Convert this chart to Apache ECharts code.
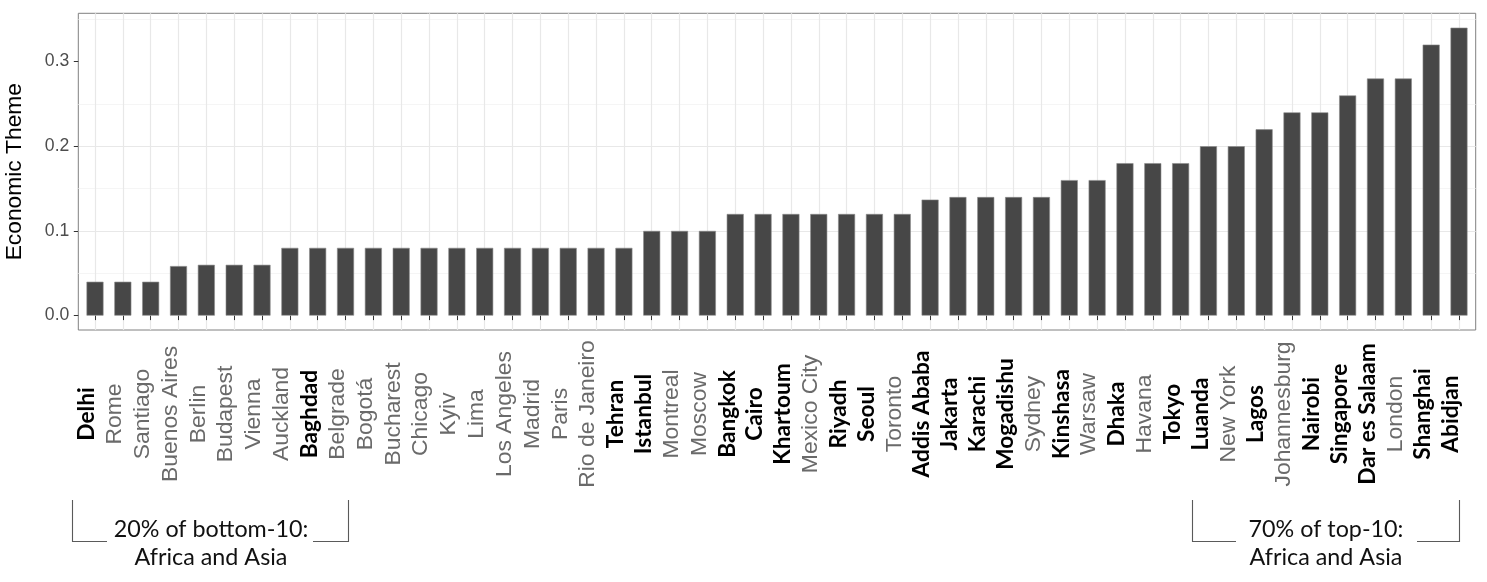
<!DOCTYPE html>
<html>
<head>
<meta charset="utf-8">
<script src="https://cdn.jsdelivr.net/npm/echarts@6/dist/echarts.min.js"></script>
<style>
html, body { margin: 0; padding: 0; background: #fff; }
#chart { width: 1487px; height: 582px; }
</style>
</head>
<body>
<div id="chart"></div>
<script>
// cities sorted by score
var cities = ['Delhi', 'Rome', 'Santiago', 'Buenos Aires', 'Berlin', 'Budapest', 'Vienna', 'Auckland',
    'Baghdad', 'Belgrade', 'Bogotá', 'Bucharest', 'Chicago', 'Kyiv', 'Lima', 'Los Angeles', 'Madrid',
    'Paris', 'Rio de Janeiro', 'Tehran', 'Istanbul', 'Montreal', 'Moscow', 'Bangkok', 'Cairo', 'Khartoum',
    'Mexico City', 'Riyadh', 'Seoul', 'Toronto', 'Addis Ababa', 'Jakarta', 'Karachi', 'Mogadishu', 'Sydney',
    'Kinshasa', 'Warsaw', 'Dhaka', 'Havana', 'Tokyo', 'Luanda', 'New York', 'Lagos', 'Johannesburg',
    'Nairobi', 'Singapore', 'Dar es Salaam', 'London', 'Shanghai', 'Abidjan'];

var scores = [0.04, 0.04, 0.04, 0.0585, 0.06, 0.06, 0.06, 0.08,
    0.08, 0.08, 0.08, 0.08, 0.08, 0.08, 0.08, 0.08, 0.08,
    0.08, 0.08, 0.08, 0.1, 0.1, 0.1, 0.12, 0.12, 0.12,
    0.12, 0.12, 0.12, 0.12, 0.137, 0.14, 0.14, 0.14, 0.14,
    0.16, 0.16, 0.18, 0.18, 0.18, 0.2, 0.2, 0.22, 0.24,
    0.24, 0.26, 0.28, 0.28, 0.32, 0.34];

// Africa and Asia -> bold labels
var africaAsia = ['Delhi', 'Baghdad', 'Tehran', 'Istanbul', 'Bangkok', 'Cairo', 'Khartoum', 'Riyadh',
    'Seoul', 'Addis Ababa', 'Jakarta', 'Karachi', 'Mogadishu', 'Kinshasa', 'Dhaka', 'Tokyo', 'Luanda',
    'Lagos', 'Nairobi', 'Singapore', 'Dar es Salaam', 'Shanghai', 'Abidjan'];

var yTicks = [0, 0.1, 0.2, 0.3];
var yMin = -0.017, yMax = 0.357;

var notes = [
    ['20% of bottom-10:', 'Africa and Asia'],
    ['70% of top-10:', 'Africa and Asia']
];

var chart = echarts.init(document.getElementById('chart'));

var lineStyle = { stroke: '#5a5a5a', lineWidth: 1.1, fill: null };
function noteText(x, y, txt) {
    return {
        type: 'text', x: x, y: y,
        style: { text: txt, font: '23.3px Lato', fill: '#111', align: 'center', verticalAlign: 'middle' }
    };
}

chart.setOption({
    animation: false,
    backgroundColor: '#fff',
    grid: [
        // panel (border, horizontal grid, y axis)
        { left: 78.3, right: 11.3, top: 13.3, bottom: 252, outerBoundsMode: 'none', show: true, borderColor: '#808080', borderWidth: 1, backgroundColor: 'transparent' },
        // bars: first / last category centre
        { left: 95, right: 28, top: 13.3, bottom: 252, outerBoundsMode: 'none' }
    ],
    xAxis: [
        { type: 'value', gridIndex: 0, min: 0, max: 1, show: false },
        {
            type: 'category', gridIndex: 1, data: cities, boundaryGap: false,
            axisLine: { show: false },
            axisTick: { show: true, interval: 0, length: 4.5, lineStyle: { color: '#333', width: 1 } },
            splitLine: { show: true, interval: 0, lineStyle: { color: '#e8e8e8', width: 1.2 } },
            axisLabel: {
                interval: 0, rotate: 90, margin: 84, align: 'center', verticalAlign: 'middle',
                padding: [0, 0, 16, 0],
                formatter: function (v) {
                    return africaAsia.indexOf(v) >= 0 ? '{b|' + v + '}' : '{r|' + v + '}';
                },
                rich: {
                    b: { fontFamily: 'Lato', fontWeight: 'bold', fontSize: 22.7, color: '#000', lineHeight: 24 },
                    r: { fontFamily: 'Liberation Sans', fontSize: 22.9, color: '#6a6a6a', lineHeight: 24 }
                }
            }
        }
    ],
    yAxis: [
        {
            type: 'value', gridIndex: 0, min: yMin, max: yMax, splitNumber: 4,
            name: 'Economic Theme', nameLocation: 'middle', nameGap: 52,
            nameTextStyle: { fontFamily: 'Liberation Sans', fontSize: 22.8, color: '#000' },
            axisLine: { show: false },
            axisTick: { show: true, length: 4.5, customValues: yTicks, lineStyle: { color: '#333', width: 1 } },
            axisLabel: {
                customValues: yTicks, margin: 9, fontFamily: 'Liberation Sans', fontSize: 17.6, color: '#4d4d4d',
                formatter: function (v) { return v.toFixed(1); }
            },
            splitLine: { show: true, showMinLine: false, showMaxLine: false, lineStyle: { color: '#e8e8e8', width: 1.2 } },
            minorTick: { show: false, splitNumber: 2 },
            minorSplitLine: { show: true, lineStyle: { color: '#f3f3f3', width: 0.8 } }
        },
        { type: 'value', gridIndex: 1, min: yMin, max: yMax, show: false }
    ],
    series: [{
        type: 'bar',
        xAxisIndex: 1,
        yAxisIndex: 1,
        data: scores,
        barWidth: 17,
        clip: false,
        itemStyle: { color: '#474747', borderColor: '#8c8c8c', borderWidth: 0.6 }
    }],
    graphic: [
        { type: 'polyline', shape: { points: [[72.5, 500], [72.5, 541.5], [107, 541.5]] }, style: lineStyle },
        { type: 'polyline', shape: { points: [[313, 541.5], [348.5, 541.5], [348.5, 500]] }, style: lineStyle },
        noteText(211, 529, notes[0][0]),
        noteText(211, 557, notes[0][1]),
        { type: 'polyline', shape: { points: [[1192.5, 500], [1192.5, 541.5], [1236, 541.5]] }, style: lineStyle },
        { type: 'polyline', shape: { points: [[1417, 541.5], [1459.5, 541.5], [1459.5, 500]] }, style: lineStyle },
        noteText(1326, 529, notes[1][0]),
        noteText(1326, 557, notes[1][1])
    ]
});
</script>
</body>
</html>
